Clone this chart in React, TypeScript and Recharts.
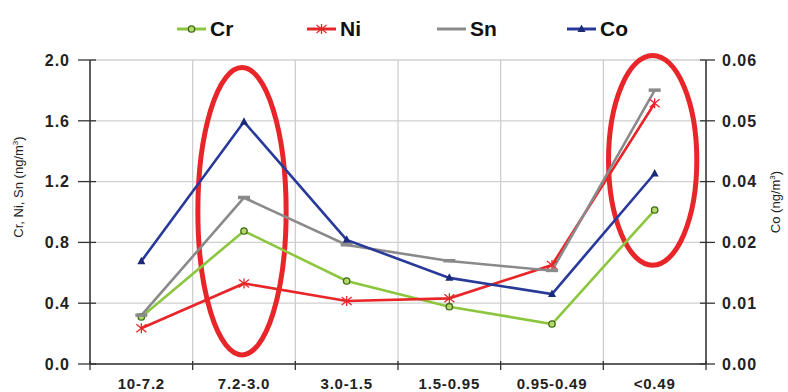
import React from "react";
import {
  LineChart,
  Line,
  CartesianGrid,
  XAxis,
  YAxis,
  ReferenceArea,
} from "recharts";

const categories = ["10-7.2", "7.2-3.0", "3.0-1.5", "1.5-0.95", "0.95-0.49", "<0.49"];
const crValues = [0.31, 0.875, 0.546, 0.377, 0.263, 1.013];
const niValues = [0.235, 0.53, 0.414, 0.432, 0.651, 1.715];
const snValues = [0.32, 1.094, 0.783, 0.678, 0.614, 1.8];
const coValues = [0.0203, 0.0478, 0.0245, 0.017, 0.0138, 0.0376];

const leftTicks = [0, 0.4, 0.8, 1.2, 1.6, 2.0];
const rightTicks = [0, 0.012, 0.024, 0.036, 0.048, 0.06];

// circled categories and their vertical extent (left axis units)
const highlightCats = ["7.2-3.0", "<0.49"];
const highlightLow = [0.06, 0.65];
const highlightHigh = [1.95, 2.03];

const data = categories.map((c, i) => ({
  cat: c,
  Cr: crValues[i],
  Ni: niValues[i],
  Sn: snValues[i],
  Co: coValues[i],
}));

const AXIS = "#333";
const FONT = "'Liberation Sans', Arial, sans-serif";

const CrDot = ({ cx, cy }: any) => (
  <circle cx={cx} cy={cy} r={3.2} fill="#b5d96a" stroke="#3d6b14" strokeWidth={1.3} />
);
const NiDot = ({ cx, cy }: any) => (
  <g stroke="#e8262a" strokeWidth={1.3}>
    <line x1={cx - 5} x2={cx + 5} y1={cy - 4} y2={cy + 4} />
    <line x1={cx - 5} x2={cx + 5} y1={cy + 4} y2={cy - 4} />
    <line x1={cx} x2={cx} y1={cy - 5} y2={cy + 5} />
  </g>
);
const SnDot = ({ cx, cy }: any) => (
  <rect x={cx - 6} y={cy - 2} width={12} height={3.5} fill="#8a8a8a" />
);
const CoDot = ({ cx, cy }: any) => (
  <path d={`M${cx},${cy - 4.5} L${cx + 4},${cy + 3} L${cx - 4},${cy + 3} Z`} fill="#1b2a78" />
);

const series = [
  { key: "Cr", color: "#8cc63f", axis: "left", Dot: CrDot },
  { key: "Ni", color: "#e8262a", axis: "left", Dot: NiDot },
  { key: "Sn", color: "#8a8a8a", axis: "left", Dot: null as any },
  { key: "Co", color: "#28399a", axis: "right", Dot: CoDot },
];

const tickText = { fill: "#222", fontFamily: FONT, fontWeight: "bold", fontSize: 16, letterSpacing: 1 } as const;

const XTick = ({ x, y, payload }: any) => {
  const half = payload.offset ?? 0;
  const last = payload.index === categories.length - 1;
  return (
    <g>
      <line x1={x - half} x2={x - half} y1={y - 3} y2={y + 6} stroke={AXIS} strokeWidth={1.3} />
      {last && <line x1={x + half} x2={x + half} y1={y - 3} y2={y + 6} stroke={AXIS} strokeWidth={1.3} />}
      <text x={x} y={y + 25} textAnchor="middle" fontFamily={FONT} fontWeight="bold" fontSize={15} letterSpacing={0.8} fill="#222">
        {payload.value}
      </text>
    </g>
  );
};

const LeftTick = ({ x, y, payload }: any) => (
  <g>
    <line x1={x - 12} x2={x + 6} y1={y} y2={y} stroke={AXIS} strokeWidth={1.3} />
    <text x={x - 20} y={y} dy="0.36em" textAnchor="end" {...tickText}>
      {payload.value.toFixed(1)}
    </text>
  </g>
);

const RightTick = ({ x, y, payload }: any) => (
  <g>
    <line x1={x - 6} x2={x + 9} y1={y} y2={y} stroke={AXIS} strokeWidth={1.3} />
    <text x={x + 16} y={y} dy="0.36em" textAnchor="start" {...tickText}>
      {payload.value.toFixed(2)}
    </text>
  </g>
);

const Ellipse = (props: any) => {
  const { x, y, width, height } = props;
  return (
    <ellipse
      cx={x + width / 2 - 2}
      cy={y + height / 2}
      rx={width * 0.43}
      ry={height / 2}
      fill="none"
      stroke="#e8262a"
      strokeWidth={5}
    />
  );
};

const Legend = () => (
  <div
    style={{
      position: "absolute",
      top: 17,
      left: 177,
      display: "flex",
      fontFamily: FONT,
      fontWeight: "bold",
      fontSize: 21,
      lineHeight: "24px",
      color: "#111",
    }}
  >
    {series.map((s) => (
      <div key={s.key} style={{ display: "flex", alignItems: "center", gap: 4, width: 130 }}>
        <svg width={29} height={14}>
          <line x1={0} x2={29} y1={7} y2={7} stroke={s.color} strokeWidth={3} />
          {s.Dot && <s.Dot cx={14.5} cy={7} />}
        </svg>
        <span>{s.key}</span>
      </div>
    ))}
  </div>
);

export default function App() {
  return (
    <div style={{ position: "absolute", left: 0, top: 0, width: 788, height: 392, background: "#fff" }}>
      <Legend />
      <LineChart
        width={788}
        height={392}
        data={data}
        margin={{ top: 60, right: 0, bottom: 0, left: 0 }}
      >
        <CartesianGrid
          yAxisId="left"
          stroke="#cfcfcf"
          strokeWidth={1.3}
          verticalCoordinatesGenerator={({ offset }: any) =>
            categories
              .map((_, i) => offset.left + (i * offset.width) / categories.length)
              .concat(offset.left + offset.width)
          }
        />
        <XAxis
          dataKey="cat"
          scale="band"
          height={28}
          tickSize={0}
          tickMargin={0}
          tickLine={false}
          stroke={AXIS}
          strokeWidth={1.5}
          tick={<XTick />}
          interval={0}
        />
        <YAxis
          yAxisId="left"
          width={90}
          domain={[0, 2]}
          ticks={leftTicks}
          tickSize={0}
          tickMargin={0}
          tickLine={false}
          stroke={AXIS}
          strokeWidth={1.5}
          tick={<LeftTick />}
          label={{
            content: () => (
              <text
                transform="translate(23,187) rotate(-90)"
                textAnchor="middle"
                fontFamily={FONT}
                fontSize={13}
                fill="#222"
              >
                Cr, Ni, Sn (ng/m
                <tspan dy={-5} fontSize={8}>3</tspan>
                <tspan dy={5}>)</tspan>
              </text>
            ),
          }}
        />
        <YAxis
          yAxisId="right"
          orientation="right"
          width={82}
          domain={[0, 0.06]}
          ticks={rightTicks}
          tickSize={0}
          tickMargin={0}
          tickLine={false}
          stroke={AXIS}
          strokeWidth={1.5}
          tick={<RightTick />}
          label={{
            content: () => (
              <text
                transform="translate(780,202) rotate(-90)"
                textAnchor="middle"
                fontFamily={FONT}
                fontSize={13}
                fill="#222"
              >
                Co (ng/m
                <tspan dy={-5} fontSize={8}>3</tspan>
                <tspan dy={5}>)</tspan>
              </text>
            ),
          }}
        />
        {series.map((s) => (
          <Line
            key={s.key}
            yAxisId={s.axis}
            type="linear"
            dataKey={s.key}
            stroke={s.color}
            strokeWidth={2.6}
            dot={s.Dot ? <s.Dot /> : <SnDot />}
            activeDot={false}
            isAnimationActive={false}
          />
        ))}
        {highlightCats.map((c, i) => (
          <ReferenceArea
            key={c}
            yAxisId="left"
            x1={c}
            x2={c}
            y1={highlightLow[i]}
            y2={highlightHigh[i]}
            ifOverflow="visible"
            shape={<Ellipse />}
          />
        ))}
      </LineChart>
    </div>
  );
}
